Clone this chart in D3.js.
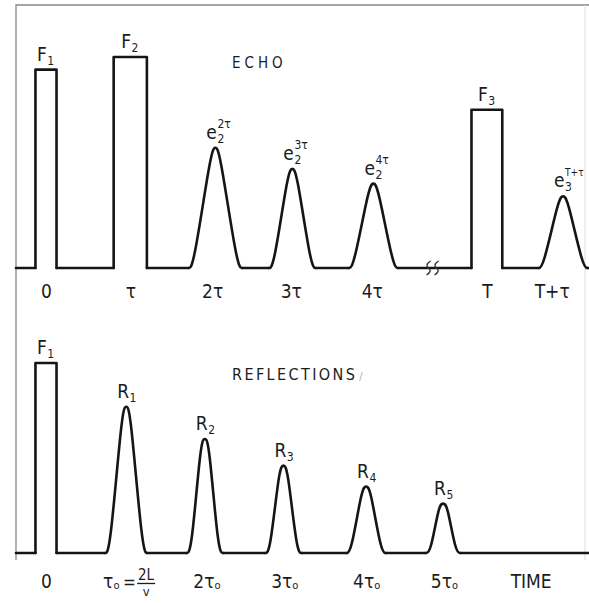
<!DOCTYPE html>
<html>
<head>
<meta charset="utf-8">
<script src="https://cdn.jsdelivr.net/npm/d3@7"></script>
<style>
  body { margin: 0; background: #fff; }
  svg { display: block; }
  text { font-family: "Liberation Sans Narrow", "DejaVu Sans Condensed", "Liberation Sans", sans-serif; fill: #1c1c1c; }
</style>
</head>
<body>
<div id="chart"></div>
<script>
// top panel: pulses F1, F2, F3 and their echoes (time in units of tau)
const echoTimes = [0, 1.04, 2.09, 3.04, 4.04, 5.44, 6.38];
const echoAmps = [0.94, 1.0, 0.57, 0.47, 0.40, 0.75, 0.34];
const echoWidths = [0.26, 0.41, 0.54, 0.46, 0.49, 0.38, 0.49];
const echoKinds = ['rect', 'rect', 'bell', 'bell', 'bell', 'rect', 'bell'];
const echoNames = ['F', 'F', 'e', 'e', 'e', 'F', 'e'];
const echoSubs = ['1', '2', '2', '2', '2', '3', '3'];
const echoSups = ['', '', '2τ', '3τ', '4τ', '', 'T+τ'];
const echoTicks = [0, 1.04, 2.05, 3.02, 4.02, 5.44, 6.24];
const echoTickLabels = ['0', 'τ', '2τ', '3τ', '4τ', 'T', 'T+τ'];
const echoBreak = 4.77;

// bottom panel: pulse F1 and reflections R1..R5 (time in units of tau0)
const reflTimes = [0, 0.99, 1.96, 2.93, 3.95, 4.9];
const reflAmps = [1.0, 0.77, 0.60, 0.46, 0.35, 0.26];
const reflWidths = [0.26, 0.40, 0.33, 0.33, 0.37, 0.31];
const reflKinds = ['rect', 'bell', 'bell', 'bell', 'bell', 'bell'];
const reflNames = ['F', 'R', 'R', 'R', 'R', 'R'];
const reflSubs = ['1', '1', '2', '3', '4', '5'];
const reflTicks = [0, 0.97, 1.98, 2.94, 3.95, 4.91, 5.98];
const reflTickLabels = ['0', 'τ0=2L/v', '2τ0', '3τ0', '4τ0', '5τ0', 'TIME'];

const width = 589;
const height = 603;

const svg = d3.select("#chart")
    .append("svg")
    .attr("width", width)
    .attr("height", height);

// same time scale for both panels
const x = d3.scaleLinear().domain([-0.37, 6.7]).range([16, 589]);
const yTop = d3.scaleLinear().domain([0, 1]).range([268, 57]);
const yBot = d3.scaleLinear().domain([0, 1]).range([553, 363]);

// frame of the original figure
svg.append("path")
    .attr("d", `M${x.range()[0]},560 V5 H${width}`)
    .attr("fill", "none")
    .attr("stroke", "#888")
    .attr("stroke-width", 1.3);
svg.append("line")
    .attr("x1", 585).attr("x2", 585).attr("y1", 5).attr("y2", 560)
    .attr("stroke", "#ddd");

function pulseShape(t, a, w, kind, y) {
    const l = x(t - w / 2), r = x(t + w / 2), c = x(t), top = y(a), b = y(0);
    if (kind === 'rect') {
        return { start: l, end: r, d: d3.line()([[l, b], [l, top], [r, top], [r, b]]) };
    }
    return {
        start: l - 5, end: r + 5,
        d: d3.line().curve(d3.curveBasis)([[l - 5, b], [l, b], [c - 4, top], [c, top], [c + 4, top], [r, b], [r + 5, b]])
    };
}

function drawPanel(times, amps, widths, kinds, names, subs, sups, y) {
    const g = svg.append("g");
    let cur = x.range()[0];
    const b = y(0);
    times.forEach((t, i) => {
        const p = pulseShape(t, amps[i], widths[i], kinds[i], y);
        g.append("path").attr("d", `M${cur},${b} H${p.start}`);
        g.append("path").attr("d", p.d);
        cur = p.end;
    });
    g.append("path").attr("d", `M${cur},${b} H${x.range()[1]}`);
    g.selectAll("path")
        .attr("fill", "none")
        .attr("stroke", "#151515")
        .attr("stroke-width", 2.6)
        .attr("stroke-linejoin", "round")
        .attr("stroke-linecap", "round");

    // pulse labels
    times.forEach((t, i) => {
        const lx = x(t) - 9;
        const ly = y(amps[i]) - 9;
        const nm = g.append("text").attr("x", lx).attr("y", ly).attr("font-size", 19).text(names[i]);
        const w = nm.node().getComputedTextLength();
        g.append("text").attr("x", lx + w + 0.5).attr("y", ly + 4).attr("font-size", 12).text(subs[i]);
        if (sups && sups[i]) {
            g.append("text").attr("x", lx + w + 0.5).attr("y", ly - 11)
                .attr("font-size", sups[i].length > 2 ? 10 : 12).text(sups[i]);
        }
    });
    return g;
}

drawPanel(echoTimes, echoAmps, echoWidths, echoKinds, echoNames, echoSubs, echoSups, yTop);
drawPanel(reflTimes, reflAmps, reflWidths, reflKinds, reflNames, reflSubs, null, yBot);

// break mark on the top time axis
const bx = x(echoBreak), by = yTop(0);
[-4, 4].forEach(off => {
    svg.append("path")
        .attr("d", `M${bx + off + 2},${by - 7} Q${bx + off - 4},${by - 3} ${bx + off},${by} Q${bx + off + 4},${by + 3} ${bx + off - 2},${by + 7}`)
        .attr("fill", "none")
        .attr("stroke", "#333")
        .attr("stroke-width", 1.4);
});

// panel titles
svg.append("text").attr("x", 232).attr("y", 68)
    .attr("font-size", 15).attr("letter-spacing", 4).text("ECHO");
const refl = svg.append("text").attr("x", 232).attr("y", 380)
    .attr("font-size", 16).attr("letter-spacing", 2.4).text("REFLECTIONS");
svg.append("text").attr("x", 232 + refl.node().getComputedTextLength() + 2).attr("y", 380)
    .attr("font-size", 11).style("fill", "#aaa").text("/");

// top time axis
const axTop = svg.append("g")
    .attr("transform", `translate(0,${yTop(0)})`)
    .call(d3.axisBottom(x).tickValues(echoTicks).tickFormat((d, i) => echoTickLabels[i]).tickSize(0));
axTop.select(".domain").remove();
axTop.selectAll("text")
    .attr("y", 30).attr("dy", null)
    .attr("font-size", 19)
    .attr("font-family", null)
    .style("fill", "#1c1c1c");

// bottom time axis
const axBot = svg.append("g")
    .attr("transform", `translate(0,${yBot(0)})`)
    .call(d3.axisBottom(x).tickValues(reflTicks).tickFormat("").tickSize(0));
axBot.select(".domain").remove();
axBot.selectAll(".tick text").remove();
axBot.selectAll(".tick").each(function (d, i) {
    const lab = reflTickLabels[i];
    const tk = d3.select(this);
    if (lab.includes("=")) {
        // tau0 = 2L / v
        const t = tk.append("text").attr("x", -22).attr("y", 35).attr("font-size", 19).attr("text-anchor", "start");
        t.append("tspan").text("τ");
        t.append("tspan").attr("font-size", 11).attr("dy", 1).text("o");
        tk.append("text").attr("x", -2).attr("y", 35).attr("font-size", 17).attr("text-anchor", "start").text("=");
        tk.append("text").attr("x", 21).attr("y", 27).attr("font-size", 15).attr("text-anchor", "middle").text("2L");
        tk.append("line").attr("x1", 12).attr("x2", 30).attr("y1", 30.5).attr("y2", 30.5)
            .attr("stroke", "#1c1c1c").attr("stroke-width", 1.3);
        tk.append("text").attr("x", 21).attr("y", 43).attr("font-size", 13).attr("text-anchor", "middle").text("v");
    } else {
        const t = tk.append("text").attr("y", 35).attr("font-size", 19).attr("text-anchor", "middle");
        if (lab.endsWith("τ0")) {
            t.append("tspan").text(lab.slice(0, -1));
            t.append("tspan").attr("font-size", 11).attr("dy", 1).text("o");
        } else {
            t.text(lab);
        }
    }
});
axBot.selectAll("text").style("fill", "#1c1c1c");
</script>
</body>
</html>
